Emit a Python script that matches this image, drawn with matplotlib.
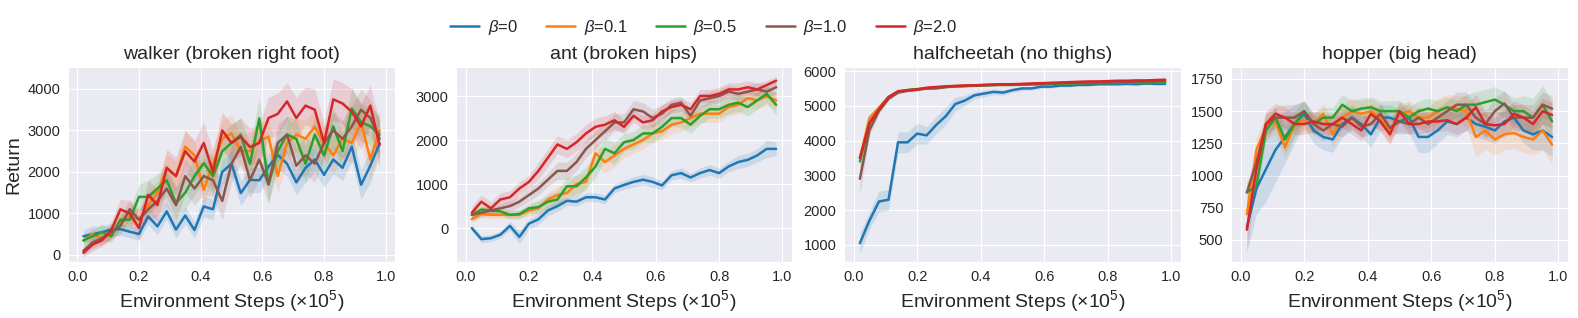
#!/usr/bin/env python3
"""Morphology-transfer returns for different beta values, four environments."""
import numpy as np
import matplotlib
matplotlib.use("Agg")
import matplotlib.pyplot as plt
import seaborn as sns

sns.set_style("darkgrid")
plt.rcParams["font.family"] = ["Liberation Sans", "DejaVu Sans"]
plt.rcParams["mathtext.fontset"] = "custom"
plt.rcParams["mathtext.rm"] = "Liberation Sans"
plt.rcParams["mathtext.it"] = "Liberation Sans:italic"

# environment steps (x1e5), evaluation points
STEPS = [0.02, 0.05, 0.08, 0.11, 0.14, 0.17, 0.20, 0.23, 0.26, 0.29, 0.32,
         0.35, 0.38, 0.41, 0.44, 0.47, 0.50, 0.53, 0.56, 0.59, 0.62, 0.65,
         0.68, 0.71, 0.74, 0.77, 0.80, 0.83, 0.86, 0.89, 0.92, 0.95, 0.98]
BETAS = ["0", "0.1", "0.5", "1.0", "2.0"]
COLORS = ["#1f77b4", "#ff7f0e", "#2ca02c", "#8c564b", "#d62728"]
TITLES = ["walker (broken right foot)", "ant (broken hips)",
          "halfcheetah (no thighs)", "hopper (big head)"]

# ---- walker (broken right foot): mean return per beta
walker_mean = [
    [450, 500, 550, 610, 620, 560, 505, 930, 690, 1050, 610, 950, 600, 1170, 1100, 2000, 2200,
     1490, 1810, 1800, 2130, 2410, 2200, 1750, 2100, 2300, 1930, 2300, 2100, 2610, 1690, 2150, 2690],
    [350, 500, 400, 500, 800, 950, 850, 1200, 1500, 2090, 1900, 2610, 2400, 1570, 2200, 2800, 2930,
     2500, 2500, 2750, 2850, 1900, 2700, 2900, 2800, 3090, 2700, 2400, 2800, 2700, 3200, 2300, 3000],
    [350, 450, 550, 450, 850, 850, 1400, 1400, 1600, 1800, 1250, 1500, 1900, 2210, 1900, 2500, 2700,
     2900, 2200, 3290, 1700, 2500, 2900, 2800, 2200, 2900, 2400, 3100, 2500, 3530, 3200, 3100, 2900],
    [100, 300, 400, 550, 700, 1100, 850, 1100, 1300, 1600, 1200, 1900, 1600, 1900, 1800, 1300, 2200,
     2600, 1800, 2300, 1700, 2700, 2900, 2150, 2400, 2200, 2700, 3000, 2800, 3100, 3500, 3300, 2800],
    [50, 250, 350, 600, 1100, 1000, 650, 1450, 1200, 2100, 1900, 2500, 2250, 2700, 2000, 3000, 2700,
     2850, 2600, 2700, 3300, 3400, 3700, 3300, 3600, 3500, 2700, 3750, 3650, 3450, 3100, 3600, 2650],
]
walker_std = [
    [150, 200, 150, 150, 150, 150, 150, 200, 200, 200, 200, 200, 200, 250, 250, 300, 300,
     300, 300, 300, 300, 350, 300, 300, 350, 300, 300, 350, 300, 350, 350, 400, 300],
    [100, 150, 150, 150, 200, 200, 250, 300, 300, 350, 350, 400, 350, 400, 400, 450, 450,
     400, 450, 400, 450, 400, 450, 400, 450, 450, 400, 450, 450, 500, 450, 500, 450],
    [150, 150, 200, 150, 200, 250, 300, 400, 350, 400, 400, 400, 450, 450, 450, 450, 450,
     400, 450, 500, 450, 450, 450, 450, 450, 450, 400, 450, 450, 500, 450, 450, 450],
    [100, 150, 150, 150, 200, 250, 250, 300, 350, 400, 400, 400, 400, 450, 400, 450, 450,
     400, 450, 450, 450, 450, 450, 450, 450, 450, 400, 450, 450, 500, 500, 450, 450],
    [100, 150, 150, 200, 250, 300, 300, 350, 400, 450, 450, 500, 500, 500, 500, 450, 450,
     450, 450, 450, 500, 500, 450, 500, 450, 500, 500, 500, 500, 550, 550, 500, 550],
]

# ---- ant (broken hips)
ant_mean = [
    [0, -250, -230, -150, 50, -200, 100, 200, 400, 500, 620, 600, 700, 700, 650, 900, 980,
     1050, 1100, 1050, 970, 1200, 1250, 1150, 1250, 1320, 1250, 1400, 1500, 1550, 1650, 1800, 1800],
    [200, 320, 300, 300, 300, 300, 400, 450, 650, 750, 800, 1000, 1050, 1700, 1500, 1650, 1800,
     1900, 2000, 2150, 2200, 2350, 2400, 2500, 2600, 2600, 2600, 2750, 2800, 2950, 2900, 3000, 2900],
    [300, 420, 400, 380, 300, 320, 450, 480, 600, 650, 950, 950, 1150, 1400, 1800, 1700, 1950,
     2000, 2150, 2150, 2300, 2500, 2500, 2350, 2550, 2700, 2700, 2800, 2850, 2750, 2900, 3050, 2800],
    [300, 350, 400, 450, 500, 600, 750, 900, 1100, 1300, 1300, 1500, 1800, 2000, 2200, 2400, 2400,
     2700, 2650, 2500, 2600, 2800, 2850, 2550, 2900, 2950, 3000, 3100, 3050, 3100, 3150, 3100, 3200],
    [350, 600, 450, 650, 700, 900, 1050, 1300, 1600, 1900, 1800, 1950, 2150, 2300, 2350, 2450, 2300,
     2550, 2400, 2450, 2650, 2750, 2800, 2700, 3000, 3000, 3050, 3150, 3150, 3200, 3150, 3250, 3350],
]
ant_std = [
    [60, 80, 80, 80, 100, 150, 120, 120, 120, 120, 100, 100, 100, 100, 100, 100, 100,
     120, 120, 120, 100, 100, 120, 100, 120, 120, 120, 120, 150, 150, 150, 200, 150],
    [80, 80, 80, 80, 80, 100, 120, 150, 150, 200, 200, 200, 200, 250, 250, 250, 200,
     200, 200, 200, 200, 200, 200, 200, 200, 200, 200, 200, 200, 200, 200, 200, 200],
    [80, 80, 80, 80, 100, 100, 120, 150, 150, 200, 200, 250, 250, 250, 250, 250, 200,
     200, 200, 200, 200, 200, 200, 200, 200, 200, 200, 200, 200, 200, 200, 200, 250],
    [100, 100, 100, 100, 120, 120, 150, 150, 150, 200, 200, 200, 200, 200, 200, 200, 200,
     200, 200, 200, 200, 150, 150, 150, 150, 150, 150, 150, 150, 150, 150, 150, 150],
    [150, 150, 150, 150, 150, 150, 150, 200, 200, 200, 200, 200, 200, 200, 200, 200, 150,
     150, 150, 150, 150, 150, 150, 150, 150, 150, 150, 150, 150, 150, 150, 100, 100],
]

# ---- halfcheetah (no thighs)
cheetah_mean = [
    [1050, 1700, 2250, 2300, 3950, 3950, 4200, 4150, 4450, 4700, 5050, 5150, 5300, 5350, 5400, 5380, 5450,
     5500, 5500, 5550, 5550, 5580, 5580, 5600, 5600, 5620, 5620, 5620, 5630, 5620, 5640, 5630, 5630],
    [3500, 4650, 4950, 5250, 5400, 5450, 5470, 5500, 5520, 5550, 5570, 5580, 5580, 5600, 5600, 5610, 5620,
     5620, 5630, 5640, 5640, 5650, 5650, 5660, 5660, 5660, 5670, 5670, 5680, 5680, 5680, 5690, 5680],
    [3400, 4500, 4900, 5250, 5400, 5450, 5480, 5500, 5520, 5540, 5560, 5570, 5580, 5590, 5600, 5600, 5600,
     5610, 5620, 5620, 5630, 5640, 5640, 5650, 5650, 5650, 5650, 5660, 5660, 5660, 5650, 5660, 5670],
    [2900, 4300, 4850, 5200, 5380, 5430, 5460, 5500, 5500, 5540, 5560, 5570, 5580, 5590, 5600, 5610, 5610,
     5620, 5620, 5640, 5650, 5650, 5660, 5670, 5670, 5680, 5680, 5690, 5690, 5700, 5700, 5710, 5720],
    [3500, 4500, 4900, 5250, 5420, 5450, 5470, 5520, 5540, 5560, 5570, 5580, 5590, 5600, 5610, 5620, 5620,
     5630, 5640, 5650, 5660, 5670, 5680, 5690, 5700, 5700, 5710, 5720, 5720, 5730, 5730, 5740, 5750],
]
cheetah_std = [
    [300, 250, 300, 300, 300, 300, 300, 250, 250, 250, 200, 150, 100, 100, 80, 80, 60,
     60, 50, 50, 40, 40, 40, 30, 30, 30, 30, 30, 30, 30, 30, 30, 30],
    [150, 120, 80, 50, 40, 30, 30, 30, 30, 30, 30, 30, 30, 30, 30, 30, 30,
     30, 30, 30, 30, 30, 30, 30, 30, 30, 30, 30, 30, 30, 30, 30, 30],
    [150, 120, 80, 50, 40, 30, 30, 30, 30, 30, 30, 30, 30, 30, 30, 30, 30,
     30, 30, 30, 30, 30, 30, 30, 30, 30, 30, 30, 30, 30, 30, 30, 30],
    [450, 150, 80, 50, 40, 30, 30, 30, 30, 30, 30, 30, 30, 30, 30, 30, 30,
     30, 30, 30, 30, 30, 30, 30, 30, 30, 30, 30, 30, 30, 30, 30, 30],
    [150, 120, 80, 50, 40, 30, 30, 30, 30, 30, 30, 30, 30, 30, 30, 30, 30,
     30, 30, 30, 30, 30, 30, 30, 30, 30, 30, 30, 30, 30, 30, 30, 30],
]

# ---- hopper (big head)
hopper_mean = [
    [600, 900, 1050, 1200, 1300, 1400, 1480, 1350, 1300, 1280, 1400, 1450, 1400, 1320, 1450, 1450, 1420,
     1450, 1300, 1300, 1350, 1420, 1400, 1450, 1400, 1380, 1350, 1420, 1450, 1350, 1320, 1350, 1300],
    [700, 1200, 1380, 1420, 1220, 1400, 1430, 1400, 1480, 1320, 1450, 1500, 1480, 1500, 1450, 1350, 1480,
     1500, 1450, 1450, 1500, 1530, 1520, 1500, 1300, 1350, 1280, 1320, 1330, 1300, 1280, 1350, 1240],
    [870, 920, 1350, 1450, 1280, 1400, 1500, 1400, 1450, 1450, 1550, 1500, 1520, 1530, 1500, 1500, 1500,
     1450, 1500, 1520, 1500, 1530, 1500, 1550, 1550, 1570, 1590, 1550, 1500, 1500, 1450, 1550, 1420],
    [870, 1100, 1400, 1450, 1450, 1450, 1500, 1400, 1350, 1400, 1380, 1450, 1380, 1400, 1480, 1370, 1420,
     1400, 1450, 1400, 1450, 1500, 1550, 1550, 1450, 1400, 1500, 1560, 1450, 1450, 1450, 1550, 1520],
    [580, 1050, 1400, 1480, 1450, 1400, 1400, 1420, 1400, 1400, 1450, 1400, 1350, 1480, 1420, 1320, 1500,
     1400, 1400, 1420, 1420, 1430, 1400, 1450, 1530, 1400, 1390, 1400, 1480, 1450, 1400, 1500, 1470],
]
hopper_std = [
    [200, 200, 250, 250, 200, 150, 100, 100, 100, 100, 100, 100, 100, 100, 100, 100, 100,
     120, 120, 120, 100, 100, 100, 100, 100, 100, 100, 100, 100, 100, 120, 150, 150],
    [100, 100, 100, 100, 100, 100, 80, 80, 80, 100, 100, 100, 100, 100, 100, 100, 80,
     80, 80, 80, 100, 100, 100, 120, 150, 150, 120, 120, 120, 120, 120, 150, 150],
    [80, 80, 80, 80, 100, 100, 80, 80, 80, 80, 80, 80, 80, 80, 80, 80, 80,
     80, 80, 80, 80, 80, 80, 80, 100, 100, 100, 100, 100, 120, 150, 150, 150],
    [80, 80, 80, 80, 100, 100, 80, 80, 80, 80, 80, 80, 80, 80, 80, 80, 80,
     80, 80, 80, 80, 80, 100, 100, 100, 100, 100, 100, 100, 100, 100, 100, 100],
    [150, 100, 100, 80, 80, 80, 80, 80, 80, 80, 80, 80, 80, 80, 80, 80, 80,
     80, 80, 80, 80, 80, 80, 100, 100, 100, 100, 100, 100, 100, 100, 100, 100],
]

PANELS = [(walker_mean, walker_std), (ant_mean, ant_std),
          (cheetah_mean, cheetah_std), (hopper_mean, hopper_std)]
YLIMS = [(-170, 4530), (-770, 3660), (510, 6115), (329, 1843)]
YTICKS = [[0, 1000, 2000, 3000, 4000], [0, 1000, 2000, 3000],
          [1000, 2000, 3000, 4000, 5000, 6000], [500, 750, 1000, 1250, 1500, 1750]]
# axes boxes in pixels (left, right) on a 1578 x 318 canvas
BOXES = [(68, 395), (456, 792), (844, 1181), (1231, 1568)]
W, H = 1578, 318


def main():
    fig, axes = plt.subplots(1, 4, figsize=(W / 100, H / 100), dpi=100)
    x = np.array(STEPS)
    for k, ax in enumerate(axes):
        l, r = BOXES[k]
        ax.set_position([l / W, 1 - 262 / H, (r - l) / W, (262 - 67) / H])
        means, stds = PANELS[k]
        for i, b in enumerate(BETAS):
            m = np.array(means[i], float); s = np.array(stds[i], float)
            ax.fill_between(x, m - s, m + s, color=COLORS[i], alpha=0.15, lw=0)
            ax.plot(x, m, color=COLORS[i], lw=1.8, label=rf"$\beta$={b}")
        ax.set_xlim(-0.03, 1.03)
        ax.set_ylim(*YLIMS[k])
        ax.set_xticks([0.0, 0.2, 0.4, 0.6, 0.8, 1.0])
        ax.set_yticks(YTICKS[k])
        ax.tick_params(labelsize=10.5, pad=2)
        ax.set_title(TITLES[k], fontsize=14, pad=6)
        ax.set_xlabel(r"Environment Steps ($\times 10^5$)", fontsize=14, labelpad=3)
    axes[0].set_ylabel("Return", fontsize=14)
    h, lab = axes[0].get_legend_handles_labels()
    fig.legend(h, lab, loc="center", bbox_to_anchor=(0.446, 0.915), ncol=5, frameon=False,
               fontsize=12, handlelength=1.75, columnspacing=1.7, handletextpad=0.5)
    fig.savefig("out.png", dpi=100)


if __name__ == "__main__":
    main()
